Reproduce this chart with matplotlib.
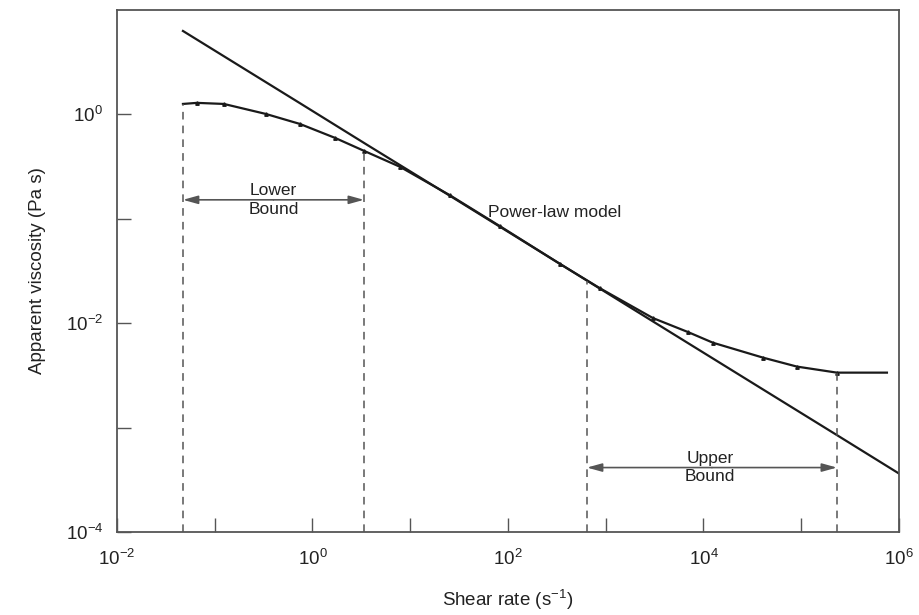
import numpy as np
import matplotlib
matplotlib.use("Agg")
import matplotlib.pyplot as plt

plt.rcParams['font.family'] = ['Liberation Sans', 'DejaVu Sans']
plt.rcParams['mathtext.fontset'] = 'custom'
plt.rcParams['mathtext.rm'] = 'Liberation Sans'
plt.rcParams['mathtext.it'] = 'Liberation Sans'

shear_rate = [0.0473, 0.0658, 0.124, 0.334, 0.745, 1.70, 3.36, 7.85, 25.5,
              82.8, 340, 873, 3040, 7000, 12500, 40600, 90300, 2.32e5, 7.53e5]
viscosity = [1.26, 1.29, 1.26, 1.01, 0.81, 0.596, 0.448, 0.315, 0.168,
             0.085, 0.037, 0.0216, 0.0112, 8.2e-3, 6.5e-3, 4.68e-3, 3.84e-3, 3.36e-3, 3.36e-3]

# power-law model line
model_rate = [0.0473, 0.745, 3.61, 25.5, 3040, 40600, 2.32e5, 1e6]
model_visc = [6.30, 1.28, 0.512, 0.166, 0.0104, 2.32e-3, 8.47e-4, 3.63e-4]

# bound markers
lower_bound = [0.0473, 3.36]
upper_bound = [643, 2.32e5]
lower_top = [1.26, 0.448]
upper_top = [0.0255, 3.36e-3]
lower_arrow_y = 0.152
upper_arrow_y = 4.14e-4

xticks = [1e-2, 1e-1, 1e0, 1e1, 1e2, 1e3, 1e4, 1e5, 1e6]
xticklabels = ['$10^{-2}$', '', '$10^{0}$', '', '$10^{2}$', '', '$10^{4}$', '', '$10^{6}$']
yticks = [1e-4, 1e-3, 1e-2, 1e-1, 1e0]
yticklabels = ['$10^{-4}$', '', '$10^{-2}$', '', '$10^{0}$']

fig = plt.figure(figsize=(9.19, 6.15), dpi=100)
ax = fig.add_axes([0.1273, 0.135, 0.8509, 0.8487])
ax.set_xscale('log')
ax.set_yscale('log')
ax.set_xlim(1e-2, 1e6)
ax.set_ylim(1e-4, 1e1)

ink = '#1a1a1a'
grey = '#555555'
txt = '#222222'

ax.plot(model_rate, model_visc, color=ink, lw=1.6)
ax.plot(shear_rate, viscosity, color=ink, lw=1.6, marker='^', ms=2.5,
        markevery=slice(1, 18))

dash = dict(color=grey, lw=1.1, dashes=(5, 4))
for xv, yv in zip(lower_bound, lower_top):
    ax.plot([xv, xv], [1e-4, yv], **dash)
for xv, yv in zip(upper_bound, upper_top):
    ax.plot([xv, xv], [1e-4, yv], **dash)

arr = dict(arrowstyle='-|>,head_length=0.9,head_width=0.25', color=grey, lw=1.2,
           shrinkA=0, shrinkB=0)
for bnd, yv in ((lower_bound, lower_arrow_y), (upper_bound, upper_arrow_y)):
    mid = np.sqrt(bnd[0] * bnd[1])
    ax.annotate('', xy=(bnd[0], yv), xytext=(mid, yv), arrowprops=arr)
    ax.annotate('', xy=(bnd[1], yv), xytext=(mid, yv), arrowprops=arr)

ax.text(0.40, 0.152, 'Lower\nBound', ha='center', va='center', fontsize=12.5,
        linespacing=1.3, color=txt)
ax.text(1.17e4, 4.14e-4, 'Upper\nBound', ha='center', va='center', fontsize=12.5,
        linespacing=1.3, color=txt)
ax.text(62, 0.098, 'Power-law model', ha='left', va='bottom', fontsize=12.5, color=txt)

ax.set_xticks(xticks)
ax.set_xticklabels(xticklabels)
ax.set_yticks(yticks)
ax.set_yticklabels(yticklabels)
ax.minorticks_off()
ax.tick_params(direction='in', length=10, width=1, color=grey, labelsize=13.5,
               labelcolor=txt)
ax.tick_params(axis='x', pad=12)
ax.tick_params(axis='y', pad=10)
for s in ax.spines.values():
    s.set_color(grey)
    s.set_linewidth(1.3)

ax.set_xlabel('Shear rate (s$^{-1}$)', fontsize=13.5, color=txt, labelpad=14)
ax.set_ylabel('Apparent viscosity (Pa s)', fontsize=13.5, color=txt, labelpad=14)

fig.savefig('out.png', dpi=100)
